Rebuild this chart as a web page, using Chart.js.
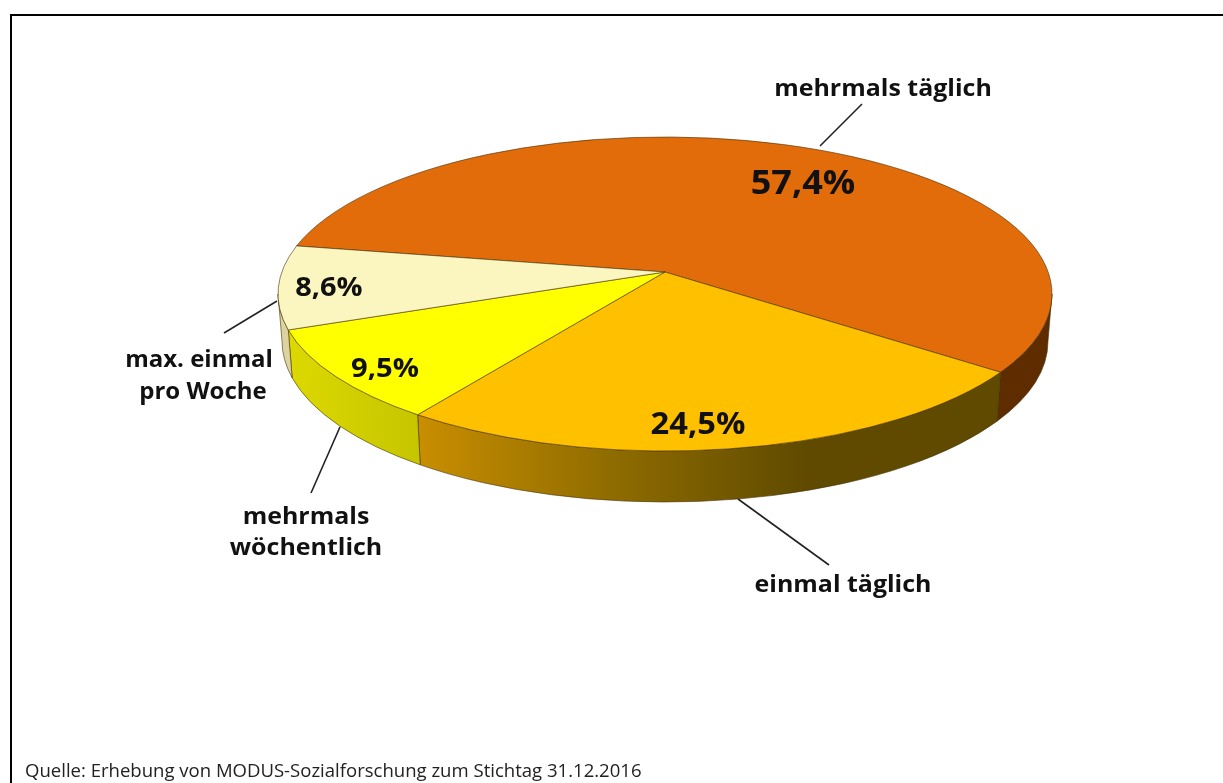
<!DOCTYPE html>
<html lang="de">
<head>
<meta charset="utf-8">
<title>Kreisdiagramm</title>
<script src="https://cdn.jsdelivr.net/npm/chart.js@4"></script>
<style>
    body { margin: 0; background: #fff; overflow: hidden; }
    canvas { display: block; }
</style>
</head>
<body>
<canvas id="myChart" width="1223" height="783"></canvas>
<script>
const categories = ["mehrmals täglich", "einmal täglich", "mehrmals wöchentlich", "max. einmal pro Woche"];
const shares = [57.4, 24.5, 9.5, 8.6];
const shareLabels = ["57,4%", "24,5%", "9,5%", "8,6%"];
const sourceText = "Quelle: Erhebung von MODUS-Sozialforschung zum Stichtag 31.12.2016";

const faceColors = ["#e26b0a", "#ffc000", "#ffff00", "#fbf6bf"];
const wallColors = [
    ["#5f2c00", "#5f2c00"],
    ["#c98e00", "#8f6c00", "#5f4a00", "#5f4a00"],
    ["#dcd800", "#c6c600"],
    ["#dcd3a0", "#dcd3a0"]
];

// Draufsicht mit Perspektive: Spitze liegt ueber der Ellipsenmitte
const tilt = { rx: 387, ry: 157, apexShift: 22, wallRx: 383, wallRy: 161, wallDrop: 47 };

// Text und Fuehrungslinien
const percentStyle = [
    { x: 803, y: 194, size: 34, stretch: 1.06 },
    { x: 698, y: 434, size: 30, stretch: 1.09 },
    { x: 385, y: 377, size: 27, stretch: 1.08 },
    { x: 329, y: 296, size: 27, stretch: 1.07 }
];
const outerLabels = [
    { lines: ["mehrmals täglich"], x: [883], y: [96], stretch: 1.04 },
    { lines: ["einmal täglich"], x: [843], y: [592], stretch: 1.04 },
    { lines: ["mehrmals", "wöchentlich"], x: [306, 306], y: [524, 555], stretch: 1.04 },
    { lines: ["max. einmal", "pro Woche"], x: [199, 203], y: [367, 399], stretch: 1 }
];
const leaderLines = [
    [862, 104, 820, 146],
    [738, 499, 829, 565],
    [340, 427, 311, 493],
    [277, 301, 224, 333]
];

// Winkel auf dem Kreis -> Winkel auf der perspektivischen Ellipse
function projectAngle(a) {
    const d = tilt.apexShift / tilt.ry;
    const x = Math.cos(a), y = Math.sin(a);
    const w = 1 - d * y;
    return Math.atan2((y - d) / w, x * Math.sqrt(1 - d * d) / w);
}

// Text leicht in die Breite gezogen wie im Original
function stretchedText(ctx, txt, x, y, stretch) {
    ctx.save();
    ctx.translate(x, y);
    ctx.scale(stretch, 1);
    ctx.fillText(txt, 0, 0);
    ctx.restore();
}

const pie3d = {
    id: "pie3d",
    beforeDatasetDraw(chart, args) {
        const ctx = chart.ctx;
        const arcs = args.meta.data;
        const cx = arcs[0].x;
        const cy = arcs[0].y + tilt.apexShift;
        const wallCy = cy + tilt.wallDrop;

        ctx.save();
        ctx.lineWidth = 1;
        ctx.strokeStyle = "rgba(70, 50, 10, 0.6)";

        // Seitenwand, nur vorderer Teil der Ellipse (0..PI)
        arcs.forEach((arc, i) => {
            let t0 = projectAngle(arc.startAngle);
            let t1 = projectAngle(arc.endAngle);
            if (t0 < 0 && t1 < 0) return;
            if (t0 < 0) t0 = 0;
            if (t1 < 0) t1 = Math.PI;
            const x0 = cx + tilt.rx * Math.cos(t0);
            const x1 = cx + tilt.rx * Math.cos(t1);
            const grad = ctx.createLinearGradient(x1, 0, x0, 0);
            const stops = wallColors[i];
            stops.forEach((c, k) => grad.addColorStop(k / (stops.length - 1), c));
            ctx.beginPath();
            ctx.ellipse(cx, cy, tilt.rx, tilt.ry, 0, t0, t1);
            ctx.ellipse(cx, wallCy, tilt.wallRx, tilt.wallRy, 0, t1, t0, true);
            ctx.closePath();
            ctx.fillStyle = grad;
            ctx.fill();
            ctx.stroke();
        });

        // Oberseite
        arcs.forEach((arc) => {
            ctx.beginPath();
            ctx.moveTo(arc.x, arc.y);
            ctx.ellipse(cx, cy, tilt.rx, tilt.ry, 0, projectAngle(arc.startAngle), projectAngle(arc.endAngle));
            ctx.closePath();
            ctx.fillStyle = arc.options.backgroundColor;
            ctx.fill();
            ctx.stroke();
        });
        ctx.restore();
        return false;
    },
    afterDraw(chart) {
        const ctx = chart.ctx;
        ctx.save();

        // Rahmen oben und links
        ctx.strokeStyle = "#000";
        ctx.lineWidth = 2;
        ctx.beginPath();
        ctx.moveTo(11, 783);
        ctx.lineTo(11, 15);
        ctx.lineTo(1223, 15);
        ctx.stroke();

        ctx.strokeStyle = "#222";
        ctx.lineWidth = 1.6;
        leaderLines.forEach((l) => {
            ctx.beginPath();
            ctx.moveTo(l[0], l[1]);
            ctx.lineTo(l[2], l[3]);
            ctx.stroke();
        });

        ctx.fillStyle = "#111";
        ctx.textAlign = "center";
        ctx.textBaseline = "alphabetic";
        ctx.font = "bold 24px 'Open Sans'";
        outerLabels.forEach((lab) => {
            lab.lines.forEach((txt, k) => stretchedText(ctx, txt, lab.x[k], lab.y[k], lab.stretch));
        });

        shareLabels.forEach((txt, i) => {
            const p = percentStyle[i];
            ctx.font = "bold " + p.size + "px 'Open Sans'";
            stretchedText(ctx, txt, p.x, p.y, p.stretch);
        });

        ctx.textAlign = "left";
        ctx.fillStyle = "#222";
        ctx.font = "18px 'Open Sans'";
        stretchedText(ctx, sourceText, 25, 777, 1.03);
        ctx.restore();
    }
};

new Chart(document.getElementById("myChart"), {
    type: "pie",
    data: {
        labels: categories,
        datasets: [
            {
                data: shares,
                backgroundColor: faceColors,
                radius: 388
            }
        ]
    },
    options: {
        responsive: false,
        animation: false,
        rotation: -80,
        layout: {
            padding: { left: 107, right: 0, top: 0, bottom: 239 } // Spitze bei 665/272
        },
        plugins: {
            legend: { display: false },
            tooltip: { enabled: false }
        }
    },
    plugins: [pie3d]
});
</script>
</body>
</html>
